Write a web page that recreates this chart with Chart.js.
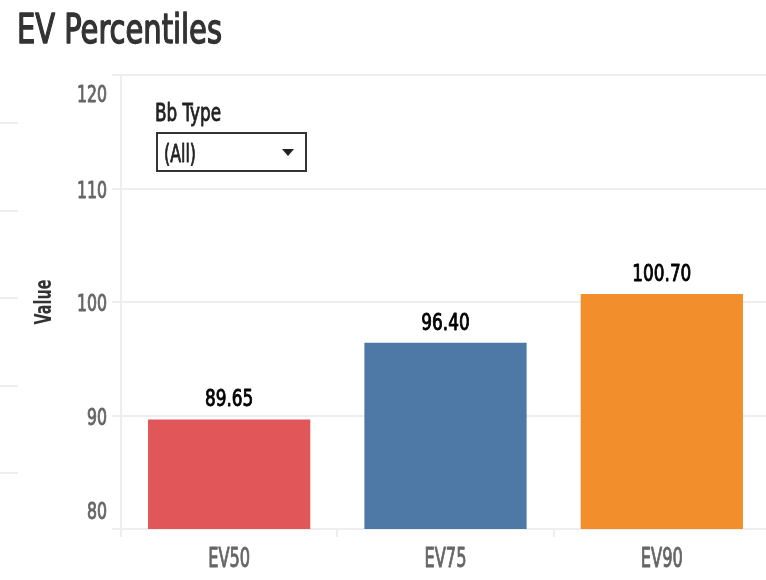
<!DOCTYPE html>
<html>
<head>
<meta charset="utf-8">
<script src="https://cdn.jsdelivr.net/npm/chart.js@4.4.1/dist/chart.umd.min.js"></script>
<style>
  html, body { margin: 0; padding: 0; background: #fff; overflow: hidden; }
  body { width: 766px; height: 580px; position: relative; }
  #wrap { position: absolute; left: 0; top: 0; width: 770px; height: 580px; }
  .stub { position: absolute; left: 0; width: 18px; height: 2px; background: #eeeeee; }
  #box { position: absolute; left: 156px; top: 132px; width: 147px; height: 36px; border: 2px solid #333; }
  #tri { position: absolute; left: 282px; top: 149px; width: 0; height: 0; border-left: 6px solid transparent; border-right: 6px solid transparent; border-top: 7px solid #222; }
</style>
</head>
<body>
<div class="stub" style="top:122px"></div>
<div class="stub" style="top:210px"></div>
<div class="stub" style="top:297px"></div>
<div class="stub" style="top:385px"></div>
<div class="stub" style="top:472px"></div>
<div id="wrap"><canvas id="chart" width="770" height="580"></canvas></div>
<div id="box"></div>
<div id="tri"></div>
<script>
const FONT = '"DejaVu Sans Condensed", "DejaVu Sans", sans-serif';

const chartTitle = 'EV Percentiles';
const filterLabel = 'Bb Type';
const filterValue = '(All)';
const categories = ['EV50', 'EV75', 'EV90'];
const values = [89.65, 96.40, 100.70];
const barColors = ['#E15759', '#4E79A7', '#F28E2B'];
const yTicks = [80, 90, 100, 110, 120];
const yTitle = 'Value';

// end tick labels are pulled inward like the original
const yLabelShift = { 120: 18, 80: -19 };

// draws text squeezed horizontally so a sample string has the given width,
// with a thin outline to make the strokes a bit heavier
function narrowText(ctx, text, x, y, font, sample, sampleWidth, align, weight) {
  ctx.font = font;
  const sx = sampleWidth / ctx.measureText(sample).width;
  const w = ctx.measureText(text).width * sx;
  let left = x;
  if (align === 'center') left = x - w / 2;
  else if (align === 'right') left = x - w;
  ctx.save();
  ctx.translate(left, y);
  ctx.scale(sx, 1);
  ctx.textAlign = 'left';
  ctx.textBaseline = 'alphabetic';
  ctx.fillText(text, 0, 0);
  if (weight) {
    ctx.strokeStyle = ctx.fillStyle;
    ctx.lineWidth = weight;
    ctx.lineJoin = 'round';
    ctx.strokeText(text, 0, 0);
  }
  ctx.restore();
}

const customLabels = {
  id: 'customLabels',
  afterDraw(chart) {
    const ctx = chart.ctx;
    const y = chart.scales.y;
    const x = chart.scales.x;
    ctx.save();

    ctx.fillStyle = '#333';
    narrowText(ctx, chartTitle, 17, 43, '41px ' + FONT, chartTitle, 205, 'left', 1.4);

    ctx.fillStyle = '#222';
    narrowText(ctx, filterLabel, 155, 121, '25px ' + FONT, filterLabel, 66, 'left', 0.8);
    narrowText(ctx, filterValue, 164, 162, '24px ' + FONT, filterValue, 32, 'left', 0.8);

    ctx.fillStyle = '#666';
    yTicks.forEach(v => {
      narrowText(ctx, String(v), 107, y.getPixelForValue(v) + 9 + (yLabelShift[v] || 0),
        '23px ' + FONT, '120', 30, 'right', 0.9);
    });

    categories.forEach((c, i) => {
      narrowText(ctx, c, x.getPixelForValue(i), 567, '27px ' + FONT, 'EV75', 42, 'center', 0.9);
    });

    // axis title
    ctx.save();
    ctx.translate(51, (chart.chartArea.top + chart.chartArea.bottom) / 2);
    ctx.rotate(-Math.PI / 2);
    ctx.fillStyle = '#333';
    narrowText(ctx, yTitle, 0, 0, 'bold 23px ' + FONT, yTitle, 45, 'center', 0);
    ctx.restore();

    // value labels
    const meta = chart.getDatasetMeta(0);
    ctx.fillStyle = '#000';
    meta.data.forEach((bar, i) => {
      narrowText(ctx, values[i].toFixed(2), bar.x, bar.y - 13, '23px ' + FONT, '100.70', 59, 'center', 0.9);
    });
    ctx.restore();
  }
};

new Chart(document.getElementById('chart'), {
  type: 'bar',
  data: {
    labels: categories,
    datasets: [{
      label: yTitle,
      data: values,
      backgroundColor: barColors,
      borderWidth: 0,
      barPercentage: 0.75,
      categoryPercentage: 1.0
    }]
  },
  options: {
    responsive: false,
    animation: false,
    layout: { padding: { top: 75, right: 0, left: 0, bottom: 0 } },
    plugins: { legend: { display: false }, tooltip: { enabled: false }, title: { display: false } },
    scales: {
      x: {
        grid: { color: '#eeeeee', lineWidth: 2, drawOnChartArea: false, drawTicks: true, tickLength: 8, offset: true },
        border: { color: '#eeeeee', width: 2 },
        ticks: { display: false },
        afterFit(scale) { scale.height = 51; }
      },
      y: {
        min: 80,
        max: 120,
        afterBuildTicks(scale) { scale.ticks = yTicks.map(v => ({ value: v })); },
        grid: { color: '#eeeeee', lineWidth: 2, tickLength: 9 },
        border: { color: '#eeeeee', width: 2 },
        ticks: { display: false },
        afterFit(scale) { scale.width = 121; }
      }
    }
  },
  plugins: [customLabels]
});
</script>
</body>
</html>
